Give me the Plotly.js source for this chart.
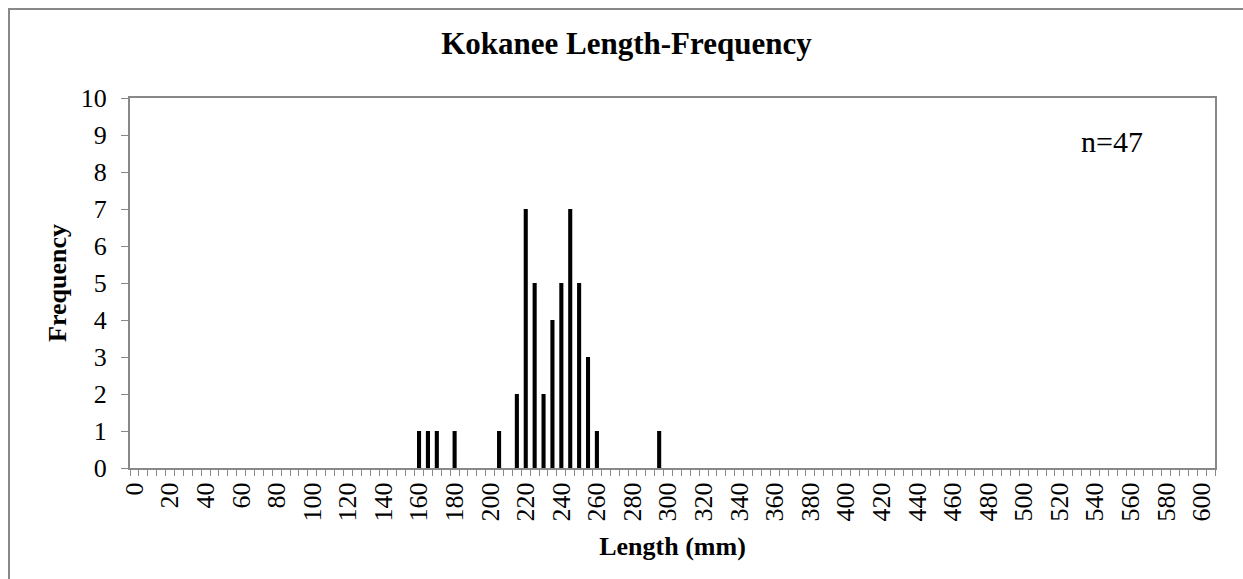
<!DOCTYPE html>
<html>
<head>
<meta charset="utf-8">
<script src="https://cdn.plot.ly/plotly-3.0.1.min.js"></script>
<style>
html,body{margin:0;padding:0;overflow:hidden;background:#fff;}
#wrap{position:relative;width:1243px;height:579px;}
#chart{position:absolute;left:0;top:0;width:1243px;height:579px;}
#frame{position:absolute;left:8px;top:8px;width:1300px;height:700px;border:2px solid #888888;pointer-events:none;}
</style>
</head>
<body>
<div id="wrap"><div id="chart"></div><div id="frame"></div></div>
<script>
// Data
const lengthsMM = [160, 165, 170, 180, 205, 215, 220, 225, 230, 235, 240, 245, 250, 255, 260, 295];
const frequency = [1, 1, 1, 1, 1, 2, 7, 5, 2, 4, 5, 7, 5, 3, 1, 1];
const xTickVals = [0,20,40,60,80,100,120,140,160,180,200,220,240,260,280,300,320,340,360,380,400,420,440,460,480,500,520,540,560,580,600];
const xTickText = xTickVals.map(String);
const yTickVals = [0,1,2,3,4,5,6,7,8,9,10];
const binStep = 5;
const binFirst = 0;
const binLast = 605;
const chartTitle = "Kokanee Length-Frequency";
const xTitle = "Length (mm)";
const yTitle = "Frequency";
const sampleNote = "n=47";

const FONT = "Liberation Serif, Times New Roman, serif";
const GRAY = "#888888";

const trace = {
  type: "bar",
  x: lengthsMM,
  y: frequency,
  width: 2.3,
  marker: {color: "#000000", line: {width: 0}},
  hoverinfo: "x+y"
};

const layout = {
  width: 1243,
  height: 579,
  paper_bgcolor: "#ffffff",
  plot_bgcolor: "#ffffff",
  margin: {l: 130, r: 28, t: 98, b: 111, pad: 0},
  showlegend: false,
  font: {family: FONT, color: "#000000", size: 26},
  title: {
    text: chartTitle,
    font: {family: FONT, size: 31, color: "#000000", weight: "bold"},
    xref: "container", yref: "container",
    x: 0.504, y: 0.925, xanchor: "center", yanchor: "middle"
  },
  xaxis: {
    type: "linear",
    range: [binFirst - binStep / 2, binLast + binStep / 2],
    showgrid: false,
    zeroline: false,
    showline: true,
    linecolor: GRAY,
    linewidth: 2,
    mirror: true,
    tickmode: "array",
    tickvals: xTickVals,
    ticktext: xTickText,
    ticks: "outside",
    ticklen: 0,
    tickangle: -90,
    ticklabelstandoff: 2,
    tickfont: {family: FONT, size: 26, color: "#000000"},
    minor: {tick0: binStep / 2, dtick: binStep, ticks: "outside", ticklen: 6, tickwidth: 1, tickcolor: GRAY, showgrid: false},
    title: {text: xTitle, font: {family: FONT, size: 26, color: "#000000", weight: "bold"}, standoff: 16},
    fixedrange: true
  },
  yaxis: {
    range: [0, 10],
    tickmode: "array",
    tickvals: yTickVals,
    showgrid: false,
    zeroline: false,
    showline: true,
    linecolor: GRAY,
    linewidth: 2,
    mirror: true,
    ticks: "outside",
    ticklen: 7,
    tickwidth: 1,
    tickcolor: GRAY,
    ticklabelstandoff: 9,
    tickfont: {family: FONT, size: 26, color: "#000000"},
    title: {text: yTitle, font: {family: FONT, size: 26, color: "#000000", weight: "bold"}, standoff: 7},
    fixedrange: true
  },
  annotations: [{
    text: sampleNote,
    xref: "paper", yref: "paper",
    x: 0.905, y: 0.882,
    xanchor: "center", yanchor: "middle",
    showarrow: false,
    font: {family: FONT, size: 30, color: "#000000"}
  }]
};

Plotly.newPlot("chart", [trace], layout, {displayModeBar: false, staticPlot: true});
</script>
</body>
</html>
